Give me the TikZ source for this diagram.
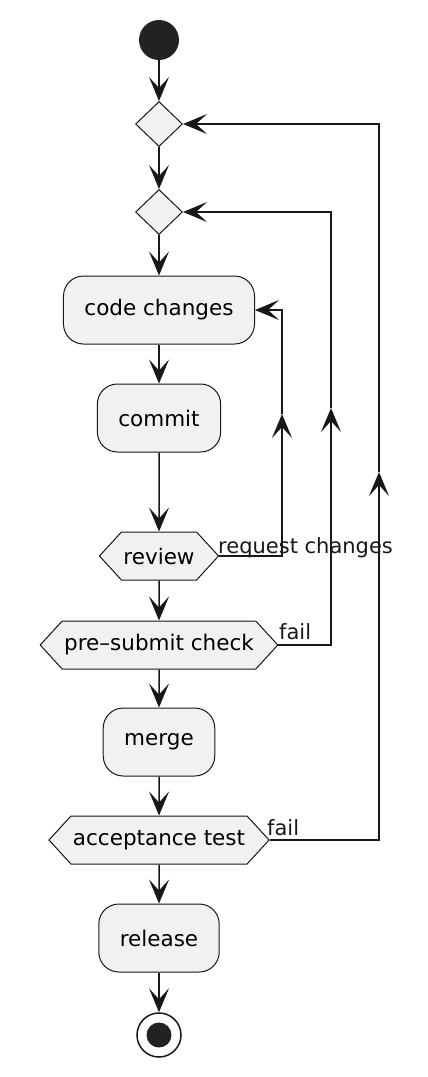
\documentclass[tikz,border=0pt]{standalone}
\usepackage{fontspec}
\setmainfont{DejaVu Sans}
\usetikzlibrary{shapes.geometric,shapes.symbols,arrows.meta,positioning}

\begin{document}
\begin{tikzpicture}[x=1pt, y=-1pt]
	% Colors
	\definecolor{boxfill}{HTML}{F1F1F1}
	\definecolor{boxline}{HTML}{181818}
	\definecolor{dotfill}{HTML}{222222}

	% --- Page frame ---
	\useasboundingbox (0,0) rectangle (428,1077);

	% --- Styles ---
	\tikzset{
		action/.style={draw=boxline, fill=boxfill, line width=1pt, rounded corners=20pt,
			minimum height=68pt, inner xsep=21pt, font=\fontsize{21.5}{26}\selectfont},
		check/.style={draw=boxline, fill=boxfill, line width=1pt, shape=signal,
			signal to=west and east, signal pointer angle=95, minimum height=48pt,
			inner xsep=2pt, font=\fontsize{21.5}{26}\selectfont},
		merger/.style={draw=boxline, fill=boxfill, line width=1pt, diamond,
			minimum width=47pt, minimum height=45pt, inner sep=0pt},
		flow/.style={draw=boxline, line width=1.5pt,
			-{Stealth[length=24pt, width=20pt, inset=11pt]}},
		guard/.style={text=boxline, font=\fontsize{21}{25}\selectfont, inner sep=0pt}
	}

	% --- Main column ---
	\node[circle, fill=dotfill, minimum size=40pt, inner sep=0pt] (start) at (159,40) {};
	\node[merger] (loopA) at (159,124) {};
	\node[merger] (loopB) at (159,212) {};
	\node[action] (code) at (159,310) {code changes};
	\node[action] (commit) at (159,418) {commit};
	\node[check] (review) at (159,556) {review};
	\node[check] (presubmit) at (159,645) {pre–submit check};
	\node[action] (merge) at (159,742) {merge};
	\node[check] (accept) at (159,840) {acceptance test};
	\node[action] (release) at (159,938) {release};
	\node[circle, draw=boxline, line width=1.5pt, fill=white, minimum size=44pt, inner sep=0pt] (stop) at (159,1035) {};
	\node[circle, fill=dotfill, minimum size=25pt, inner sep=0pt] (stopdot) at (stop) {};

	% --- Forward flow ---
	\draw[flow] (start) -- (loopA);
	\draw[flow] (loopA) -- (loopB);
	\draw[flow] (loopB) -- (code);
	\draw[flow] (code) -- (commit);
	\draw[flow] (commit) -- (review);
	\draw[flow] (review) -- (presubmit);
	\draw[flow] (presubmit) -- (merge);
	\draw[flow] (merge) -- (accept);
	\draw[flow] (accept) -- (release);
	\draw[flow] (release) -- (stop);

	% --- Loops back ---
	\coordinate (backC) at (282,414);
	\coordinate (backB) at (331,408);
	\coordinate (backA) at (379,472);
	\draw[flow] (review.east) -| (backC);
	\draw[flow] (backC) |- (code.east);
	\draw[flow] (presubmit.east) -| (backB);
	\draw[flow] (backB) |- (loopB.east);
	\draw[flow] (accept.east) -| (backA);
	\draw[flow] (backA) |- (loopA.east);

	% --- Guards ---
	\node[guard, anchor=base west] (lblreview) at (218,553) {request changes};
	\node[guard, anchor=base west] (lblpre) at (279,639) {fail};
	\node[guard, anchor=base west] (lblaccept) at (267,835) {fail};
\end{tikzpicture}
\end{document}
